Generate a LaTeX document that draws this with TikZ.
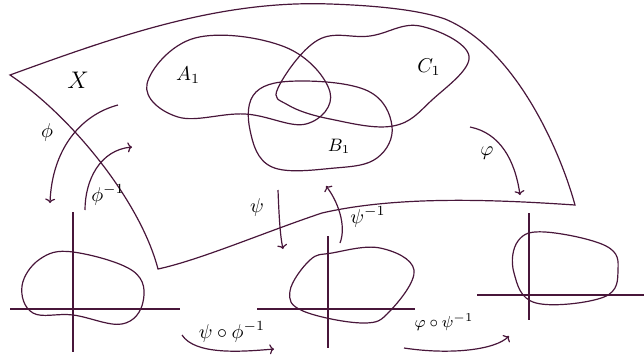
\documentclass[tikz,border=0pt]{standalone}
\usepackage{amsmath,amssymb}
\usetikzlibrary{positioning,arrows.meta}
\definecolor{plum}{RGB}{72,22,58}

\begin{document}
\begin{tikzpicture}[x=0.5pt,y=-0.5pt,
  curve/.style={plum,line width=0.6pt},
  axis/.style={plum,line width=0.7pt},
  mapto/.style={curve,-{To[length=2.2pt,width=5pt]}},
  lbl/.style={font=\normalsize,inner sep=0pt}
]
\useasboundingbox (0,0) rectangle (644,360);

% The manifold X
\draw[curve] (10,75) .. controls (120,35) and (220,0) .. (330,4)
  .. controls (390,6) and (425,12) .. (445,19)
  .. controls (515,48) and (560,150) .. (575,205)
  .. controls (500,200) and (400,195) .. (322,213)
  .. controls (265,232) and (200,260) .. (158,269)
  .. controls (140,200) and (70,115) .. (10,75) -- cycle;
\node[lbl,font=\large] (X) at (78,80) {$X$};

% Open sets
\draw[curve] plot[smooth cycle,tension=0.65] coordinates {(147,84) (195,38)
  (285,47) (330,92) (306,124) (245,114) (178,117)};
\node[lbl] (A1) at (188,75) {$A_1$};
\draw[curve] plot[smooth cycle,tension=0.65] coordinates {(278,88) (318,40)
  (370,36) (420,26) (469,56) (432,100) (393,126) (330,119) (288,105)};
\node[lbl] (C1) at (429,67) {$C_1$};
\draw[curve] plot[smooth cycle,tension=0.65] coordinates {(256,92) (300,81)
  (368,91) (392,126) (377,158) (335,168) (272,167) (250,130)};
\node[lbl,font=\small] (B1) at (339,146) {$B_1$};

% Left chart
\draw[axis] (10,309) -- (180,309);
\draw[axis] (73,212) -- (73,352);
\draw[curve] plot[smooth cycle,tension=0.65] coordinates {(73,252)
  (133,271) (143,302) (122,324) (73,315) (33,313) (22,286) (40,259)};

% Middle chart
\draw[axis] (257,309) -- (415,309);
\draw[axis] (328,236) -- (328,348);
\draw[curve] plot[smooth cycle,tension=0.65] coordinates {(332,253)
  (380,248) (414,270) (390,311) (363,323) (303,311) (290,291) (310,260)};

% Right chart
\draw[axis] (477,295) -- (644,295);
\draw[axis] (529,213) -- (529,320);
\draw[curve] plot[smooth cycle,tension=0.65] coordinates {(545,232)
  (606,246) (618,270) (604,297) (536,303) (514,273) (518,241)};

% Maps
\coordinate (phiS) at (118,105);
\coordinate (phiE) at (50,203);
\coordinate (phiiS) at (85,210);
\coordinate (phiiE) at (132,147);
\coordinate (psiS) at (278,190);
\coordinate (psiE) at (283,249);
\coordinate (psiiS) at (340,243);
\coordinate (psiiE) at (326,186);
\coordinate (vphS) at (470,127);
\coordinate (vphE) at (520,195);
\coordinate (trS) at (182,335);
\coordinate (trE) at (274,349);
\coordinate (trrS) at (404,348);
\coordinate (trrE) at (509,336);

\draw[mapto] (phiS) .. controls (80,115) and (52,150) .. (phiE);
\node[lbl] (phi) at (47,132) {$\phi$};
\draw[mapto] (phiiS) .. controls (85,180) and (100,150) .. (phiiE);
\node[lbl] (phii) at (108,195) {$\phi^{-1}$};
\draw[mapto] (psiS) .. controls (279,215) and (280,235) .. (psiE);
\node[lbl] (psi) at (257,207) {$\psi$};
\draw[mapto] (psiiS) .. controls (347,225) and (337,200) .. (psiiE);
\node[lbl] (psii) at (368,217) {$\psi^{-1}$};
\draw[mapto] (vphS) .. controls (500,133) and (515,160) .. (vphE);
\node[lbl] (vph) at (487,153) {$\varphi$};
\draw[mapto] (trS) .. controls (195,355) and (240,352) .. (trE);
\node[lbl] (tr) at (232,332) {$\psi\circ\phi^{-1}$};
\draw[mapto] (trrS) .. controls (450,355) and (495,350) .. (trrE);
\node[lbl,font=\footnotesize] (trr) at (444,322) {$\varphi\circ\psi^{-1}$};

\end{tikzpicture}
\end{document}
